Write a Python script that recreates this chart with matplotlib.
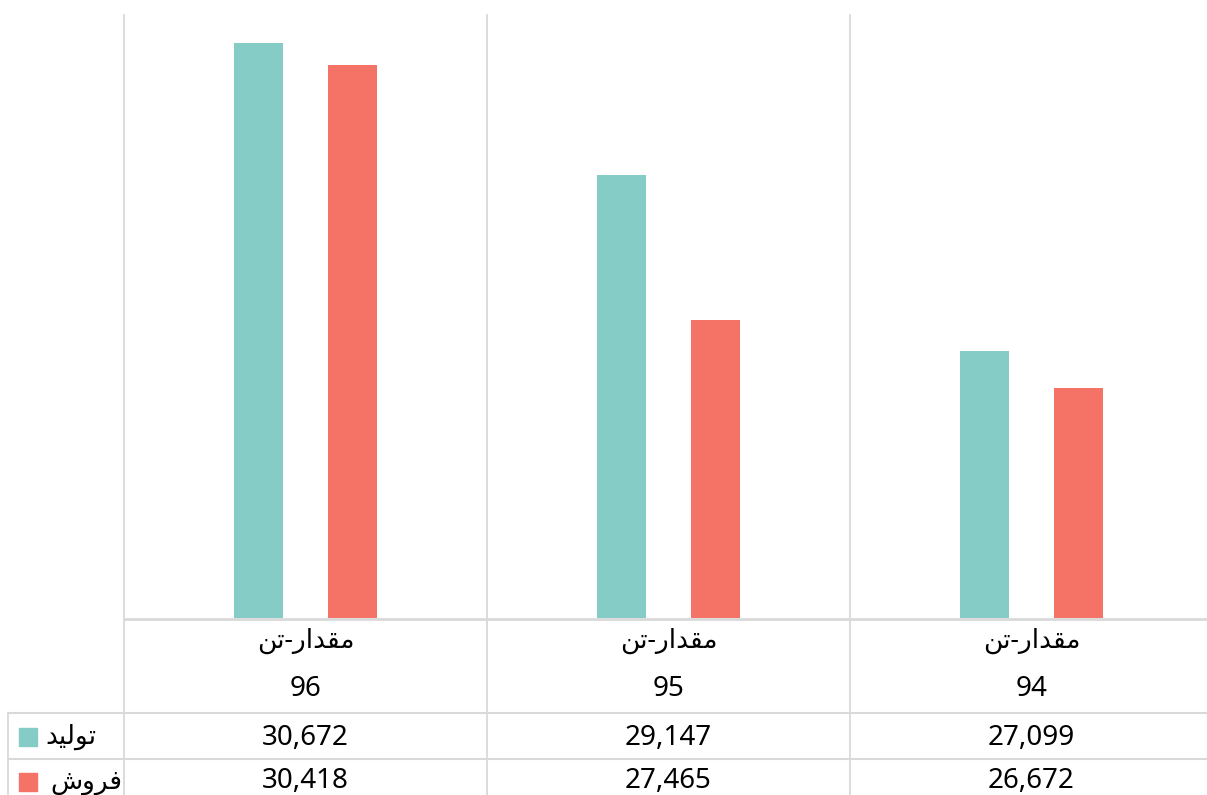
import numpy as np
import matplotlib
matplotlib.use("Agg")
import matplotlib.pyplot as plt
import matplotlib.transforms as mtransforms
from matplotlib.lines import Line2D
from matplotlib.patches import Rectangle

###############################################################################
# Data (categories in display order, left to right)
###############################################################################
years = ["96", "95", "94"]
production = [30672, 29147, 27099]
sales = [30418, 27465, 26672]
unit_label = "مقدار-تن"
series_names = ["تولید", "فروش"]
colors = ["#84CCC5", "#F47366"]
grid_col = "#D9D9D9"

###############################################################################
# Tiny Persian shaper (matplotlib has no bidi / joining support)
###############################################################################
FORMS = {  # isolated, final, initial, medial
    "م": ("\uFEE1", "\uFEE2", "\uFEE3", "\uFEE4"),
    "ق": ("\uFED5", "\uFED6", "\uFED7", "\uFED8"),
    "د": ("\uFEA9", "\uFEAA", None, None),
    "ا": ("\uFE8D", "\uFE8E", None, None),
    "ر": ("\uFEAD", "\uFEAE", None, None),
    "ت": ("\uFE95", "\uFE96", "\uFE97", "\uFE98"),
    "ن": ("\uFEE5", "\uFEE6", "\uFEE7", "\uFEE8"),
    "و": ("\uFEED", "\uFEEE", None, None),
    "ل": ("\uFEDD", "\uFEDE", "\uFEDF", "\uFEE0"),
    "ی": ("\uFBFC", "\uFBFD", "\uFBFE", "\uFBFF"),
    "ف": ("\uFED1", "\uFED2", "\uFED3", "\uFED4"),
    "ش": ("\uFEB5", "\uFEB6", "\uFEB7", "\uFEB8"),
}


def shape(s):
    out = []
    for i, ch in enumerate(s):
        if ch not in FORMS:
            out.append(ch)
            continue
        f = FORMS[ch]
        prev = s[i - 1] if i > 0 else ""
        nxt = s[i + 1] if i + 1 < len(s) else ""
        join_prev = prev in FORMS and FORMS[prev][2] is not None
        join_next = nxt in FORMS and f[2] is not None
        if join_prev and join_next:
            out.append(f[3])
        elif join_prev:
            out.append(f[1])
        elif join_next:
            out.append(f[2])
        else:
            out.append(f[0])
    return "".join(reversed(out))


###############################################################################
# Figure / layout
###############################################################################
W, H = 1207, 795
fig = plt.figure(figsize=(W / 100, H / 100), dpi=100)
fig.patch.set_facecolor("white")


def fx(px):
    return px / W


def fy(px):
    return 1 - px / H


left, right, top, bottom = 124, 1213, 15, 618
ax = fig.add_axes([fx(left), fy(bottom), fx(right) - fx(left), fy(top) - fy(bottom)])

x = np.arange(len(years))
ax.bar(x - 0.13, production, width=0.135, color=colors[0], zorder=3)
ax.bar(x + 0.13, sales, width=0.135, color=colors[1], zorder=3)
ax.set_xlim(-0.5, len(years) - 0.5)
ax.set_ylim(24000, 31000)
ax.axis("off")

fonts = ["Noto Sans", "DejaVu Sans"]
fs = 20
trans = mtransforms.blended_transform_factory(ax.transData, fig.transFigure)

# category separators (plot area + data table)
for b in np.arange(-0.5, len(years)):
    fig.add_artist(Line2D([b, b], [fy(top), fy(H + 20)], transform=trans,
                          color=grid_col, lw=1.3, clip_on=False))

# axis line and table row lines
fig.add_artist(Line2D([fx(left), 1], [fy(619), fy(619)], transform=fig.transFigure,
                      color=grid_col, lw=2))
for yy in [713, 759]:
    fig.add_artist(Line2D([fx(8), 1], [fy(yy), fy(yy)], transform=fig.transFigure,
                          color=grid_col, lw=1.5))
fig.add_artist(Line2D([fx(8), fx(8)], [fy(713), fy(H + 20)], transform=fig.transFigure,
                      color=grid_col, lw=1.3))

# header rows
for i, yr in enumerate(years):
    ax.text(x[i], fy(641), shape(unit_label), transform=trans, ha="center",
            va="center", fontsize=fs - 1, family=fonts)
    ax.text(x[i], fy(689), yr, transform=trans, ha="center", va="center",
            fontsize=fs, family=fonts)
    ax.text(x[i], fy(738), f"{production[i]:,}", transform=trans, ha="center",
            va="center", fontsize=fs, family=fonts)
    ax.text(x[i], fy(781), f"{sales[i]:,}", transform=trans, ha="center",
            va="center", fontsize=fs, family=fonts)

# legend keys in the table
for name, col, yy, tx in zip(series_names, colors, [737, 782], [45, 50]):
    fig.add_artist(Rectangle((fx(19), fy(yy + 9)), fx(18), 18 / H,
                             transform=fig.transFigure, color=col))
    fig.text(fx(tx), fy(yy), shape(name), ha="left", va="center",
             fontsize=fs - 1, family=fonts)

fig.savefig("out.png", dpi=100, facecolor="white")
